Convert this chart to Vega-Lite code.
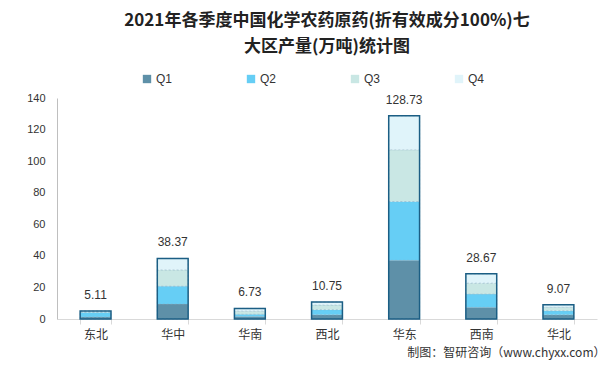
{
  "$schema": "https://vega.github.io/schema/vega-lite/v6.json",
  "width": 540,
  "height": 221,
  "autosize": {"type": "none"},
  "padding": {"left": 57, "top": 98, "right": 19, "bottom": 51},
  "background": "white",
  "title": {
    "text": ["2021年各季度中国化学农药原药(折有效成分100%)七", "大区产量(万吨)统计图"],
    "font": "Noto Sans CJK SC",
    "fontSize": 17,
    "fontWeight": "bold",
    "color": "#222222",
    "lineHeight": 26,
    "anchor": "middle",
    "offset": 17
  },
  "data": {
    "values": [
      {"region": "东北", "quarter": "Q1", "value": 1.3},
      {"region": "东北", "quarter": "Q2", "value": 2.9},
      {"region": "东北", "quarter": "Q3", "value": 0.5},
      {"region": "东北", "quarter": "Q4", "value": 0.41},
      {"region": "华中", "quarter": "Q1", "value": 9.5},
      {"region": "华中", "quarter": "Q2", "value": 11.3},
      {"region": "华中", "quarter": "Q3", "value": 10.3},
      {"region": "华中", "quarter": "Q4", "value": 7.27},
      {"region": "华南", "quarter": "Q1", "value": 1.6},
      {"region": "华南", "quarter": "Q2", "value": 1.4},
      {"region": "华南", "quarter": "Q3", "value": 2.0},
      {"region": "华南", "quarter": "Q4", "value": 1.73},
      {"region": "西北", "quarter": "Q1", "value": 2.7},
      {"region": "西北", "quarter": "Q2", "value": 3.2},
      {"region": "西北", "quarter": "Q3", "value": 2.9},
      {"region": "西北", "quarter": "Q4", "value": 1.95},
      {"region": "华东", "quarter": "Q1", "value": 37.2},
      {"region": "华东", "quarter": "Q2", "value": 37.2},
      {"region": "华东", "quarter": "Q3", "value": 32.8},
      {"region": "华东", "quarter": "Q4", "value": 21.53},
      {"region": "西南", "quarter": "Q1", "value": 7.4},
      {"region": "西南", "quarter": "Q2", "value": 8.4},
      {"region": "西南", "quarter": "Q3", "value": 6.9},
      {"region": "西南", "quarter": "Q4", "value": 5.97},
      {"region": "华北", "quarter": "Q1", "value": 2.7},
      {"region": "华北", "quarter": "Q2", "value": 2.5},
      {"region": "华北", "quarter": "Q3", "value": 2.2},
      {"region": "华北", "quarter": "Q4", "value": 1.67}
    ]
  },
  "encoding": {
    "x": {
      "field": "region",
      "type": "nominal",
      "sort": null,
      "scale": {"paddingInner": 0.6, "paddingOuter": 0.3},
      "axis": {
        "title": "制图：智研咨询（www.chyxx.com）",
        "titleAnchor": "end",
        "titleAlign": "right",
        "titleX": 548,
        "titleFont": "Noto Sans CJK SC",
        "titleFontSize": 12,
        "titleFontWeight": "normal",
        "titleColor": "#333333",
        "titlePadding": 7,
        "labelAngle": 0,
        "labelFont": "Noto Sans CJK SC",
        "labelFontSize": 12,
        "labelColor": "#333333",
        "labelPadding": 5,
        "domainColor": "#d9d9d9",
        "tickColor": "#d9d9d9",
        "tickBand": "extent",
        "tickSize": 5
      }
    },
    "y": {
      "aggregate": "sum",
      "field": "value",
      "type": "quantitative",
      "scale": {"domain": [0, 140]},
      "axis": {
        "title": null,
        "values": [0, 20, 40, 60, 80, 100, 120, 140],
        "labelOverlap": false,
        "grid": false,
        "ticks": false,
        "domainColor": "#bfbfbf",
        "labelFont": "Liberation Sans",
        "labelFontSize": 11,
        "labelColor": "#333333",
        "labelPadding": 12
      }
    }
  },
  "layer": [
    {
      "mark": {"type": "bar", "stroke": "#8fb3c6", "strokeWidth": 0.5, "strokeDash": [2, 2]},
      "encoding": {
        "color": {
          "field": "quarter",
          "type": "nominal",
          "scale": {"domain": ["Q1", "Q2", "Q3", "Q4"], "range": ["#5e90a8", "#66cef5", "#c9e7e4", "#e0f4fa"]},
          "legend": {
            "title": null,
            "orient": "none",
            "legendX": 84,
            "legendY": -25,
            "direction": "horizontal",
            "symbolType": "square",
            "symbolSize": 70,
            "symbolStrokeWidth": 0,
            "labelFont": "Liberation Sans",
            "labelFontSize": 12,
            "labelColor": "#333333",
            "columnPadding": 72,
            "labelOffset": 3
          }
        },
        "order": {"field": "quarter", "sort": "ascending"}
      }
    },
    {
      "mark": {"type": "bar", "fillOpacity": 0, "stroke": "#1b5e84", "strokeWidth": 1.5},
      "encoding": {}
    },
    {
      "mark": {"type": "text", "dy": -16, "font": "Liberation Sans", "fontSize": 12, "color": "#333333"},
      "encoding": {
        "text": {"aggregate": "sum", "field": "value", "type": "quantitative", "format": ".2f"}
      }
    }
  ],
  "config": {"view": {"stroke": null}}
}
